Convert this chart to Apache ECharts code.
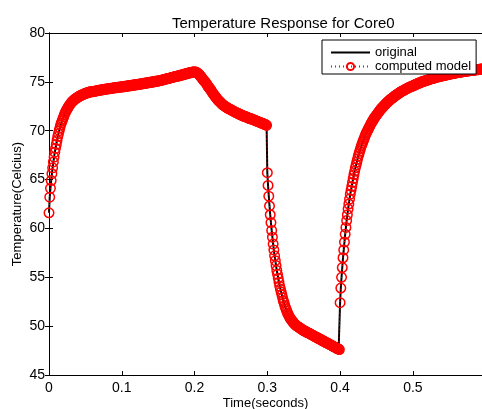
<!DOCTYPE html>
<html>
<head>
<meta charset="utf-8">
<script src="https://cdn.jsdelivr.net/npm/echarts@6/dist/echarts.min.js"></script>
<style>
html,body{margin:0;padding:0;background:#fff;}
#chart{width:482px;height:409px;}
</style>
</head>
<body>
<div id="chart"></div>
<script>
// Sample step of the simulation (seconds)
const timeStep = 0.001;

// Temperature readings (Celcius), one per time step
// t = 0.000 .. 0.199  (heating)
const heatingPhase = [
61.6,63.2,64.1,64.9,65.6,66.2,66.8,67.3,67.8,68.2,
68.6,69.0,69.4,69.7,70.0,70.3,70.6,70.8,71.0,71.2,
71.4,71.6,71.8,71.95,72.1,72.2,72.35,72.5,72.6,72.7,
72.8,72.9,73.0,73.05,73.1,73.2,73.25,73.3,73.35,73.4,
73.45,73.5,73.55,73.6,73.6,73.65,73.7,73.7,73.75,73.8,
73.8,73.85,73.85,73.9,73.9,73.95,73.95,74.0,74.0,74.0,
74.0,74.0,74.05,74.05,74.05,74.1,74.1,74.1,74.15,74.15,
74.15,74.15,74.2,74.2,74.2,74.2,74.25,74.25,74.25,74.25,
74.3,74.3,74.3,74.3,74.3,74.35,74.35,74.35,74.35,74.4,
74.4,74.4,74.4,74.4,74.45,74.45,74.45,74.45,74.45,74.5,
74.5,74.5,74.5,74.5,74.55,74.55,74.55,74.55,74.6,74.6,
74.6,74.6,74.6,74.65,74.65,74.65,74.65,74.7,74.7,74.7,
74.7,74.7,74.75,74.75,74.75,74.75,74.8,74.8,74.8,74.8,
74.85,74.85,74.85,74.85,74.9,74.9,74.9,74.9,74.95,74.95,
74.95,74.95,75.0,75.0,75.0,75.0,75.05,75.05,75.05,75.1,
75.1,75.1,75.15,75.15,75.15,75.2,75.2,75.2,75.25,75.25,
75.3,75.3,75.3,75.35,75.35,75.35,75.4,75.4,75.45,75.45,
75.45,75.5,75.5,75.55,75.55,75.55,75.6,75.6,75.6,75.65,
75.65,75.7,75.7,75.7,75.75,75.75,75.8,75.8,75.8,75.85,
75.85,75.9,75.9,75.9,75.95,75.95,75.95,76.0,76.0,76.0
];
// t = 0.200 .. 0.299
const peakDecay = [
76.0,76.0,76.0,75.95,75.9,75.85,75.8,75.7,75.6,75.5,
75.4,75.3,75.2,75.1,75.05,74.95,74.85,74.75,74.6,74.5,
74.4,74.3,74.2,74.1,73.95,73.85,73.75,73.65,73.55,73.45,
73.35,73.25,73.15,73.1,73.0,72.95,72.85,72.8,72.7,72.65,
72.6,72.55,72.5,72.45,72.4,72.35,72.3,72.25,72.2,72.2,
72.15,72.1,72.05,72.0,72.0,71.95,71.9,71.85,71.85,71.8,
71.75,71.7,71.7,71.65,71.6,71.6,71.55,71.5,71.5,71.45,
71.45,71.4,71.4,71.35,71.3,71.3,71.25,71.25,71.2,71.2,
71.15,71.1,71.1,71.05,71.05,71.0,70.95,70.95,70.9,70.9,
70.85,70.8,70.8,70.75,70.75,70.7,70.65,70.65,70.6,70.55
];
// t = 0.300 .. 0.399  (cooling)
const coolingPhase = [
65.7,64.4,63.3,62.3,61.4,60.6,59.8,59.1,58.4,57.8,
57.2,56.7,56.2,55.7,55.3,54.9,54.5,54.1,53.8,53.5,
53.2,52.9,52.6,52.4,52.1,51.9,51.7,51.5,51.3,51.15,
51.0,50.85,50.75,50.65,50.55,50.45,50.35,50.25,50.2,50.1,
50.05,50.0,49.95,49.9,49.85,49.8,49.75,49.7,49.65,49.6,
49.55,49.5,49.5,49.45,49.4,49.35,49.3,49.3,49.25,49.2,
49.15,49.1,49.1,49.05,49.0,48.95,48.9,48.9,48.85,48.8,
48.75,48.7,48.7,48.65,48.6,48.55,48.5,48.5,48.45,48.4,
48.35,48.3,48.3,48.25,48.2,48.15,48.1,48.1,48.05,48.0,
47.95,47.9,47.9,47.85,47.8,47.75,47.7,47.7,47.65,47.6
];
// t = 0.400 .. 0.595  (reheating)
const reheatPhase = [
52.4,53.9,55.0,56.0,57.0,57.8,58.6,59.4,60.1,60.8,
61.4,62.0,62.5,63.0,63.5,63.9,64.3,64.7,65.1,65.5,
65.85,66.2,66.5,66.8,67.1,67.4,67.65,67.9,68.15,68.4,
68.6,68.8,69.0,69.2,69.4,69.6,69.75,69.9,70.05,70.2,
70.35,70.5,70.65,70.8,70.9,71.05,71.15,71.3,71.4,71.5,
71.6,71.7,71.8,71.9,72.0,72.1,72.2,72.3,72.35,72.45,
72.55,72.6,72.7,72.75,72.85,72.9,73.0,73.05,73.1,73.2,
73.25,73.3,73.35,73.4,73.5,73.55,73.6,73.65,73.7,73.75,
73.8,73.85,73.9,73.95,74.0,74.05,74.1,74.1,74.15,74.2,
74.25,74.3,74.3,74.35,74.4,74.45,74.45,74.5,74.55,74.55,
74.6,74.65,74.65,74.7,74.75,74.75,74.8,74.85,74.85,74.9,
74.9,74.95,75.0,75.0,75.05,75.05,75.1,75.1,75.15,75.15,
75.2,75.2,75.25,75.25,75.3,75.3,75.35,75.35,75.35,75.4,
75.4,75.45,75.45,75.5,75.5,75.5,75.55,75.55,75.6,75.6,
75.6,75.65,75.65,75.65,75.7,75.7,75.7,75.75,75.75,75.75,
75.8,75.8,75.8,75.85,75.85,75.85,75.85,75.9,75.9,75.9,
75.95,75.95,75.95,75.95,76.0,76.0,76.0,76.0,76.05,76.05,
76.05,76.05,76.1,76.1,76.1,76.1,76.1,76.15,76.15,76.15,
76.15,76.2,76.2,76.2,76.2,76.2,76.25,76.25,76.25,76.25,
76.25,76.3,76.3,76.3,76.3,76.35
];

const xTicks = [0, 0.1, 0.2, 0.3, 0.4, 0.5];
const yTicks = [45, 50, 55, 60, 65, 70, 75, 80];
const seriesNames = ['original', 'computed model'];
const titleText = 'Temperature Response for Core0';
const xName = 'Time(seconds)';
const yName = 'Temperature(Celcius)';

const temps = heatingPhase.concat(peakDecay, coolingPhase, reheatPhase);
const points = temps.map((v, i) => [Number((i * timeStep).toFixed(3)), v]);
const xMax = points[points.length - 1][0];

const FONT = '"Liberation Sans", Arial, Helvetica, sans-serif';
const chart = echarts.init(document.getElementById('chart'), null, {renderer: 'canvas'});

const baseAxis = {
  axisLine: {show: true, lineStyle: {color: '#000', width: 1}},
  axisTick: {show: true, inside: true, length: 4, lineStyle: {color: '#000'}},
  splitLine: {show: false}
};

chart.setOption({
  animation: false,
  backgroundColor: '#fff',
  title: {
    text: titleText,
    left: 167, top: 11,
    textStyle: {fontFamily: FONT, fontSize: 15, fontWeight: 'normal', color: '#000'}
  },
  legend: {
    data: [
      {name: seriesNames[0], itemStyle: {opacity: 0}},
      {name: seriesNames[1]}
    ],
    orient: 'vertical',
    left: 322, top: 40,
    backgroundColor: '#fff',
    borderColor: '#000', borderWidth: 1, borderRadius: 0,
    padding: [6, 5, 1, 8],
    itemWidth: 39, itemHeight: 9, itemGap: 1,
    textStyle: {fontFamily: FONT, fontSize: 13, color: '#000'}
  },
  grid: {left: 49, right: 0, top: 33, bottom: 34, containLabel: false, outerBoundsMode: 'none'},
  xAxis: [
    Object.assign({}, baseAxis, {
      type: 'value', min: 0, max: xMax, interval: 0.1, position: 'bottom',
      name: xName, nameLocation: 'middle', nameGap: 22, nameMoveOverlap: false,
      nameTextStyle: {fontFamily: FONT, fontSize: 13, color: '#000'},
      axisLabel: {
        fontFamily: FONT, fontSize: 14, color: '#000', margin: 6,
        showMaxLabel: false,
        formatter: v => xTicks.some(t => Math.abs(t - v) < 1e-9) ? String(v) : ''
      }
    }),
    Object.assign({}, baseAxis, {
      type: 'value', min: 0, max: xMax, interval: 0.1, position: 'top',
      axisLabel: {show: false}
    })
  ],
  yAxis: [
    Object.assign({}, baseAxis, {
      type: 'value', min: yTicks[0], max: yTicks[yTicks.length - 1], interval: 5, position: 'left',
      name: yName, nameLocation: 'middle', nameGap: 25, nameMoveOverlap: false,
      nameTextStyle: {fontFamily: FONT, fontSize: 13, color: '#000'},
      axisLabel: {fontFamily: FONT, fontSize: 14, color: '#000', margin: 4}
    }),
    Object.assign({}, baseAxis, {
      type: 'value', min: yTicks[0], max: yTicks[yTicks.length - 1], interval: 5, position: 'right',
      axisLabel: {show: false}
    })
  ],
  series: [
    {
      name: seriesNames[0], type: 'line', data: points,
      symbol: 'none', showSymbol: false,
      lineStyle: {color: '#000', width: 2},
      itemStyle: {color: '#000'},
      z: 2
    },
    {
      name: seriesNames[1], type: 'line', data: points,
      symbol: 'circle', symbolSize: 9.5, showSymbol: true, showAllSymbol: true,
      lineStyle: {color: '#ff0000', width: 1, type: [1, 3]},
      itemStyle: {color: 'rgba(255,255,255,0)', borderColor: '#ff0000', borderWidth: 1.5},
      z: 3
    }
  ]
});
</script>
</body>
</html>
